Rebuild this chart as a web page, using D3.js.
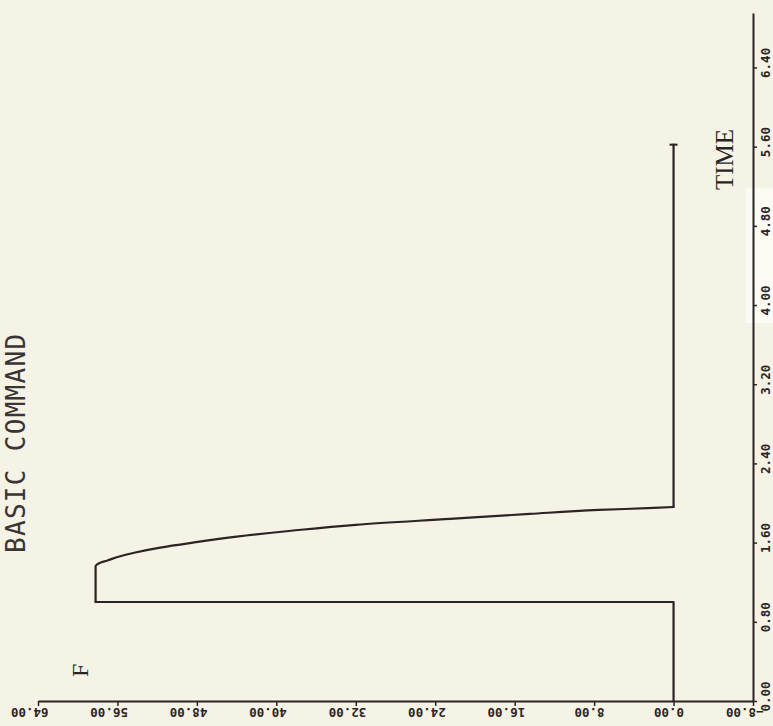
<!DOCTYPE html>
<html>
<head>
<meta charset="utf-8">
<script src="https://cdn.jsdelivr.net/npm/d3@7"></script>
<style>
  html, body { margin: 0; padding: 0; background: #f5f3e5; }
  #plot { width: 773px; height: 726px; }
  .tick text { font-family: "DejaVu Sans Mono", monospace; font-weight: bold; font-size: 12.5px; fill: #2b2424; }
</style>
</head>
<body>
<div id="plot"></div>
<script>
const plot = d3.select("#plot");
const W = 773;
const H = 726;

// data
const timeVals  = [0.00, 1.00, 1.00, 1.36, 1.39, 1.42, 1.46, 1.50, 1.55, 1.60, 1.66, 1.72, 1.78, 1.84, 1.89, 1.93, 1.95, 1.96, 5.62];
const forceVals = [0.0,  0.0,  58.2, 58.2, 57.9, 57.0, 55.8, 54.2, 51.7, 48.4, 44.0, 38.5, 32.0, 22.5, 14.5, 7.5,  2.0,  0.0,  0.0];

const forceTicks = [64, 56, 48, 40, 32, 24, 16, 8, 0, -8];
const timeTicks = [0, 0.8, 1.6, 2.4, 3.2, 4.0, 4.8, 5.6, 6.4];
const timeAxisEnd = 6.95;

const titleText = "BASIC COMMAND";
const xLabel = "TIME";
const yLabel = "F";

const ink = "#2b2424";

const svg = plot.append("svg")
	.attr("width", W)
	.attr("height", H);

svg.append("rect")
	.attr("width", W)
	.attr("height", H)
	.attr("fill", "#f5f3e5");

// scan artefact: lighter patch behind two of the time labels
svg.append("rect")
	.attr("x", 746).attr("y", 188)
	.attr("width", 27).attr("height", 135)
	.attr("fill", "#fbfaf3");

// plot is drawn rotated: force runs right-to-left along the bottom, time runs up the right side
const fScale = d3.scaleLinear()
	.domain([-8, 64])
	.range([753, 38]);

const tScale = d3.scaleLinear()
	.domain([0, timeAxisEnd])
	.range([701, 13]);

// force axis (bottom)
const fAxis = svg.append("g")
	.attr("transform", `translate(0,${tScale(0)})`)
	.call(d3.axisBottom(fScale)
		.tickValues(forceTicks)
		.tickSize(5)
		.tickSizeOuter(0)
		.tickFormat(d3.format(".2f")));

fAxis.select(".domain").attr("stroke", ink).attr("stroke-width", 2);
fAxis.selectAll(".tick line").attr("stroke", ink).attr("stroke-width", 1.5);
fAxis.selectAll(".tick text")
	.attr("x", null).attr("y", null).attr("dy", null)
	.attr("text-anchor", "start")
	.attr("transform", "translate(10,7) rotate(180)");

// time axis (right)
const tAxis = svg.append("g")
	.attr("transform", `translate(${fScale(-8)},0)`)
	.call(d3.axisRight(tScale)
		.tickValues(timeTicks)
		.tickSize(4)
		.tickSizeOuter(0)
		.tickFormat(d3.format(".2f")));

tAxis.select(".domain").attr("stroke", ink).attr("stroke-width", 2);
tAxis.selectAll(".tick line").attr("stroke", ink).attr("stroke-width", 1.5);
tAxis.selectAll(".tick text")
	.attr("x", null).attr("y", null).attr("dy", null)
	.attr("text-anchor", "start")
	.attr("transform", "translate(17,10) rotate(-90)");

// the force trace: step drawn straight, plateau + decay drawn smooth
const series = timeVals.map((t, i) => ({t: t, f: forceVals[i]}));

const straight = d3.line()
	.x(d => fScale(d.f))
	.y(d => tScale(d.t));

const smooth = d3.line()
	.curve(d3.curveMonotoneY)
	.x(d => fScale(d.f))
	.y(d => tScale(d.t));

const pieces = [
	{pts: series.slice(0, 3), gen: straight},
	{pts: series.slice(2, 18), gen: smooth},
	{pts: series.slice(17), gen: straight}
];

svg.selectAll(".trace")
	.data(pieces)
	.enter()
	.append("path")
	.attr("class", "trace")
	.attr("d", d => d.gen(d.pts))
	.attr("fill", "none")
	.attr("stroke", ink)
	.attr("stroke-width", 2.2)
	.attr("stroke-linejoin", "round")
	.attr("stroke-linecap", "round");

// end cap on last point
const last = series[series.length - 1];
svg.append("line")
	.attr("x1", fScale(last.f) - 4)
	.attr("x2", fScale(last.f) + 4)
	.attr("y1", tScale(last.t))
	.attr("y2", tScale(last.t))
	.attr("stroke", ink)
	.attr("stroke-width", 2);

// labels
svg.append("text")
	.attr("transform", "translate(25,553) rotate(-90)")
	.attr("font-family", "DejaVu Sans Mono, monospace")
	.attr("font-size", 26)
	.attr("letter-spacing", 1.3)
	.attr("fill", "#3a3434")
	.text(titleText);

svg.append("text")
	.attr("transform", "translate(733,190) rotate(-90)")
	.attr("font-family", "Liberation Serif, serif")
	.attr("font-size", 25)
	.attr("fill", ink)
	.text(xLabel);

svg.append("text")
	.attr("transform", "translate(88,677) rotate(-90)")
	.attr("font-family", "Liberation Serif, serif")
	.attr("font-size", 24)
	.attr("fill", ink)
	.text(yLabel);
</script>
</body>
</html>
